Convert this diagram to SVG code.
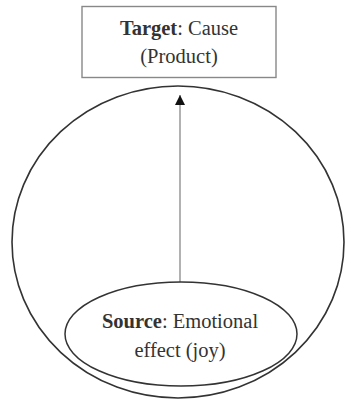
<svg xmlns="http://www.w3.org/2000/svg" width="345" height="401" viewBox="0 0 345 401">
<defs>
<style>
.t{font-family:"Liberation Serif","Times New Roman",serif;font-size:20.5px;fill:#333;text-anchor:middle}
.b{font-weight:bold}
</style>
<marker id="ah" viewBox="0 0 10 10" refX="10" refY="5" markerWidth="10" markerHeight="10" markerUnits="userSpaceOnUse" orient="auto">
<path d="M0,0 L10,5 L0,10 Z" fill="#111"/>
</marker>
</defs>
<rect width="345" height="401" fill="#fff"/>
<g id="outer">
<ellipse cx="178" cy="242" rx="166" ry="156" fill="none" stroke="#333" stroke-width="1.6"/>
</g>
<g id="connectors">
<line x1="180" y1="282" x2="180" y2="95" stroke="#888" stroke-width="1.3" marker-end="url(#ah)"/>
</g>
<g id="target">
<rect x="82" y="6.5" width="194" height="71" fill="#fff" stroke="#888" stroke-width="1.4"/>
<text class="t" x="179" y="35"><tspan class="b">Target</tspan>: Cause</text>
<text class="t" x="179" y="63">(Product)</text>
</g>
<g id="source">
<ellipse cx="181" cy="334" rx="116" ry="52" fill="#fff" stroke="#333" stroke-width="1.5"/>
<text class="t" x="180" y="328"><tspan class="b">Source</tspan>: Emotional</text>
<text class="t" x="180" y="357">effect (joy)</text>
</g>
</svg>
